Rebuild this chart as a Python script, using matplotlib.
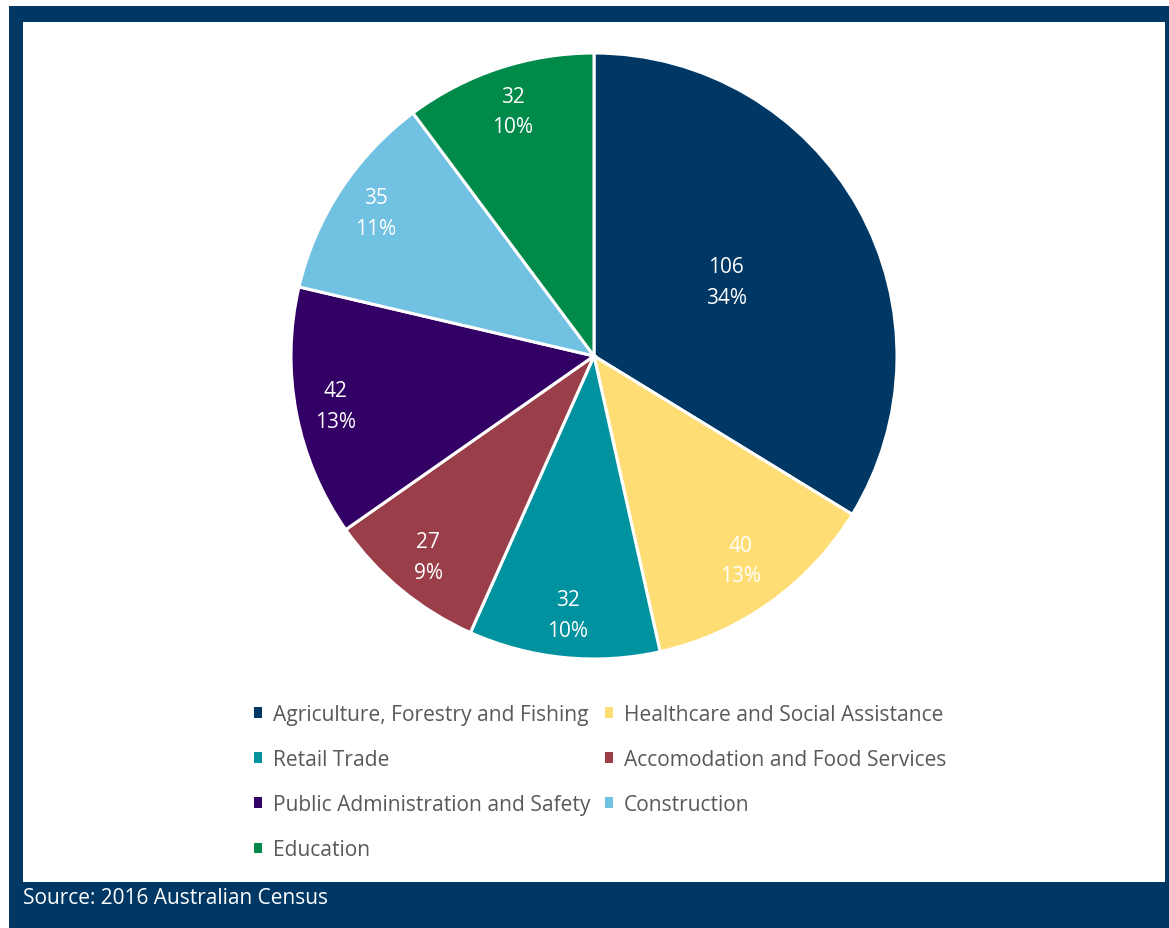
import matplotlib

matplotlib.use("Agg")
import matplotlib.pyplot as plt
from matplotlib.patches import Patch, Rectangle
import numpy as np

# data
industries = [
    "Agriculture, Forestry and Fishing",
    "Healthcare and Social Assistance",
    "Retail Trade",
    "Accomodation and Food Services",
    "Public Administration and Safety",
    "Construction",
    "Education",
]
counts = [106, 40, 32, 27, 42, 35, 32]
colors = ["#003865", "#FFDD75", "#00929F", "#9A3F4A", "#330066", "#71C1E2", "#008A4A"]
label_dist = [0.5, 0.83, 0.86, 0.86, 0.87, 0.86, 0.85]
source_note = "Source: 2016 Australian Census"

navy = "#003865"
W, H = 1169, 929
plt.rcParams["font.family"] = ["Open Sans", "DejaVu Sans"]

fig = plt.figure(figsize=(W / 100, H / 100), dpi=100)
fig.patch.set_facecolor("white")

# frame: navy block with white inner panel
bg = fig.add_axes([0, 0, 1, 1])
bg.set_xlim(0, W)
bg.set_ylim(H, 0)
bg.axis("off")
bg.add_patch(Rectangle((9, 7), W - 9, H - 7, facecolor=navy, edgecolor="none"))
bg.add_patch(Rectangle((23, 23), 1165 - 23, 883 - 23, facecolor="white", edgecolor="none"))
bg.text(23, 899, source_note, color="white", fontsize=15, va="center", ha="left")

# pie
cx, cy, r = 594, 357, 303
half = 320
ax = fig.add_axes([(cx - half) / W, (H - cy - half) / H, 2 * half / W, 2 * half / H])
wedges, _ = ax.pie(
    counts,
    colors=colors,
    startangle=90,
    counterclock=False,
    radius=1.0,
    wedgeprops=dict(edgecolor="white", linewidth=2.2),
)
ax.set_xlim(-half / r, half / r)
ax.set_ylim(-half / r, half / r)
ax.set_aspect("equal")
ax.axis("off")

total = sum(counts)
for w, n, d in zip(wedges, counts, label_dist):
    mid = np.deg2rad((w.theta1 + w.theta2) / 2)
    pct = round(100 * n / total)
    ax.text(d * np.cos(mid), d * np.sin(mid), f"{n}\n{pct}%", color="white",
            ha="center", va="center", fontsize=15, linespacing=1.6)

# legend, row-major order in two columns
order = [0, 2, 4, 6, 1, 3, 5]
handles = [Patch(facecolor=colors[i], edgecolor="none") for i in order]
labels = [industries[i] for i in order]
leg = fig.legend(
    handles, labels, ncol=2, loc="upper left",
    bbox_to_anchor=(254 / W, 1 - 705 / H),
    frameon=False, fontsize=15.1, handlelength=0.4, handleheight=0.4,
    handletextpad=0.5, columnspacing=0.7, labelspacing=1.15,
    borderpad=0, borderaxespad=0,
)
for t in leg.get_texts():
    t.set_color("#595959")

fig.savefig("out.png", dpi=100)
